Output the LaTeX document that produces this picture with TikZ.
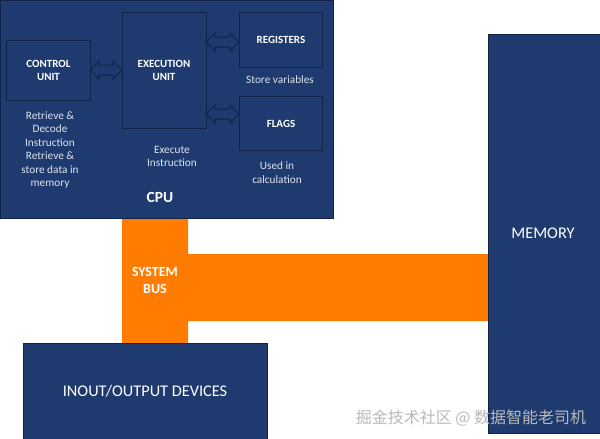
\documentclass[tikz,border=0pt]{standalone}
\usepackage{fontspec}
\setmainfont{Carlito}
\newfontfamily\cjkfont{Noto Sans CJK SC}
\usetikzlibrary{shapes.arrows,calc}
\definecolor{navy}{HTML}{1F3A6E}
\definecolor{navyline}{HTML}{112447}
\definecolor{busorange}{HTML}{FF7C00}
\definecolor{paletext}{HTML}{DCE4F0}
\tikzset{
  box/.style={draw=navyline, line width=0.8pt, fill=navy, anchor=north west, inner sep=0pt},
  unitbox/.style={draw=navyline, line width=1pt, fill=navy, anchor=north west, inner sep=0pt, text=white, font=\fontsize{11}{13}\selectfont\bfseries, align=center},
  note/.style={text=paletext, font=\fontsize{11.3}{13.5}\selectfont, align=center},
  dbl/.style={double arrow, draw=navyline, line width=1pt, fill=navy, inner sep=4.5pt, double arrow head extend=4pt, minimum height=33pt, anchor=center},
  bigtext/.style={text=white, font=\fontsize{16.3}{18}\selectfont}
}
\begin{document}
\begin{tikzpicture}[x=1pt,y=-1pt]
\useasboundingbox (0,0) rectangle (600,439);
% system bus
\fill[busorange] (122,216) -- (188,216) -- (188,254) -- (488,254) -- (488,321) -- (188,321) -- (188,343) -- (122,343) -- cycle;
\node[text=white, font=\fontsize{14}{17}\selectfont\bfseries, align=center] (bus) at (155,280.5) {SYSTEM\\BUS};
% CPU
\node[box, minimum width=333pt, minimum height=218pt] (cpu) at (0,0) {};
\node[unitbox, minimum width=84pt, minimum height=60pt] (cu) at (6,40) {CONTROL\\UNIT};
\node[unitbox, minimum width=84pt, minimum height=116pt] (eu) at (122,12) {};
\node[text=white, font=\fontsize{11}{13}\selectfont\bfseries, align=center] (eulabel) at (164,70) {EXECUTION\\UNIT};
\node[unitbox, minimum width=83pt, minimum height=55pt] (reg) at (239,12) {REGISTERS};
\node[unitbox, minimum width=83pt, minimum height=54pt] (flags) at (239,96) {FLAGS};
% arrows
\node[dbl, minimum height=32pt] (a1) at (106,70) {};
\node[dbl] (a2) at (222.5,42) {};
\node[dbl] (a3) at (222.5,114) {};
% notes
\node[note] (n1) at (50,150) {Retrieve \&\\Decode\\Instruction\\Retrieve \&\\store data in\\memory};
\node[note] (n2) at (172,156.5) {Execute\\Instruction};
\node[note] (n3) at (280,80) {Store variables};
\node[note] (n4) at (277,172.5) {Used in\\calculation};
\node[text=white, font=\fontsize{15.5}{17}\selectfont\bfseries] (cpulabel) at (160,197) {CPU};
% IO and memory
\node[box, minimum width=244pt, minimum height=96pt] (io) at (23,343) {};
\node[bigtext] (iolabel) at (145,391) {INOUT/OUTPUT DEVICES};
\node[box, minimum width=112pt, minimum height=399pt] (mem) at (488,34) {};
\node[bigtext] (memlabel) at (543,233) {MEMORY};
% watermark
\node[text=gray!55, font=\cjkfont\fontsize{16}{18}\selectfont] (wm) at (471,418) {掘金技术社区 @ 数据智能老司机};
\end{tikzpicture}
\end{document}
